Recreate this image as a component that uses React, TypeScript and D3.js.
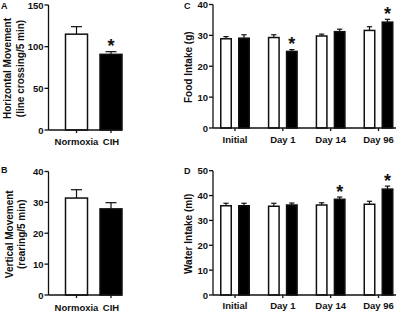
import React from "react";
import * as d3 from "d3";

// ---- data ----
const groups = ["Normoxia", "CIH"];
const horizMean = [115, 90.8];
const horizSem = [9, 3.2];
const horizSig = [false, true];
const vertMean = [31.4, 27.9];
const vertSem = [2.7, 2.0];
const vertSig = [false, false];

const days = ["Initial", "Day 1", "Day 14", "Day 96"];
const foodNormoxia = [28.9, 29.3, 29.8, 31.6];
const foodNormoxiaSem = [0.7, 0.9, 0.6, 1.2];
const foodCIH = [29.1, 24.8, 31.2, 34.3];
const foodCIHSem = [1.1, 0.6, 0.8, 0.9];
const foodSig = [false, true, false, true];

const waterNormoxia = [35.9, 35.7, 36.2, 36.5];
const waterNormoxiaSem = [1.0, 1.2, 0.9, 1.2];
const waterCIH = [35.9, 36.2, 38.5, 42.6];
const waterCIHSem = [1.0, 0.8, 0.9, 1.2];
const waterSig = [false, false, true, true];

const ticksA = [0, 50, 100, 150];
const ticksB = [0, 10, 20, 30, 40];
const ticksC = [0, 10, 20, 30, 40];
const ticksD = [0, 10, 20, 30, 40, 50];

const FONT = "'Liberation Sans', Arial, sans-serif";

type Bar = { cat: string; offset: number; mean: number; sem: number; fill: string; sig: boolean };

type PanelProps = {
  letter: string;
  letterX: number;
  letterY: number;
  labelLines: string[];
  labelXs: number[];
  left: number;
  right: number;
  top: number;
  bottom: number;
  yMax: number;
  ticks: number[];
  cats: string[];
  catRange: [number, number];
  bars: Bar[];
  barWidth: number;
  catBaseline: number;
};

function Panel(p: PanelProps) {
  const y = d3.scaleLinear().domain([0, p.yMax]).range([p.bottom, p.top]);
  const x = d3.scalePoint<string>().domain(p.cats).range(p.catRange);
  const midY = (p.top + p.bottom) / 2 + 1;
  return (
    <g fontFamily={FONT} fontWeight="bold" fill="#111">
      <text x={p.letterX} y={p.letterY} fontSize={9}>{p.letter}</text>
      {p.labelLines.map((l, i) => (
        <text
          key={i}
          transform={`translate(${p.labelXs[i]},${midY}) rotate(-90)`}
          textAnchor="middle"
          dominantBaseline="central"
          fontSize={10}
        >
          {l}
        </text>
      ))}
      {p.bars.map((b, i) => {
        const cx = (x(b.cat) as number) + b.offset;
        const yt = y(b.mean);
        const ye = y(b.mean + b.sem);
        return (
          <g key={i}>
            <line x1={cx} x2={cx} y1={yt} y2={ye} stroke="#111" strokeWidth={1.2} />
            <line x1={cx - p.barWidth / 4} x2={cx + p.barWidth / 4} y1={ye} y2={ye} stroke="#111" strokeWidth={1.2} />
            <rect
              x={cx - p.barWidth / 2}
              y={yt}
              width={p.barWidth}
              height={p.bottom - yt}
              fill={b.fill}
              stroke="#111"
              strokeWidth={1.5}
            />
            {b.sig && (
              <text x={cx} y={ye + 0.5} textAnchor="middle" fontSize={18}>*</text>
            )}
          </g>
        );
      })}
      <line x1={p.left} x2={p.left} y1={p.top} y2={p.bottom} stroke="#111" strokeWidth={1.3} />
      <line x1={p.left} x2={p.right} y1={p.bottom} y2={p.bottom} stroke="#111" strokeWidth={1.3} />
      {p.ticks.map((t) => (
        <g key={t}>
          <line x1={p.left - 4} x2={p.left} y1={y(t)} y2={y(t)} stroke="#111" strokeWidth={1.3} />
          <text x={p.left - 5} y={y(t)} textAnchor="end" dominantBaseline="central" fontSize={9.5}>{t}</text>
        </g>
      ))}
      {p.cats.map((c) => (
        <g key={c}>
          <line x1={x(c)} x2={x(c)} y1={p.bottom} y2={p.bottom + 3} stroke="#111" strokeWidth={1.3} />
          <text x={x(c)} y={p.catBaseline} textAnchor="middle" fontSize={9.5}>{c}</text>
        </g>
      ))}
    </g>
  );
}

function twoBars(means: number[], sems: number[], sig: boolean[]): Bar[] {
  return groups.map((g, i) => ({
    cat: g,
    offset: 0,
    mean: means[i],
    sem: sems[i],
    fill: i === 0 ? "#fff" : "#000",
    sig: sig[i],
  }));
}

function dayBars(nm: number[], ns: number[], cm: number[], cs: number[], sig: boolean[]): Bar[] {
  const out: Bar[] = [];
  days.forEach((d, i) => {
    out.push({ cat: d, offset: -9, mean: nm[i], sem: ns[i], fill: "#fff", sig: false });
    out.push({ cat: d, offset: 9, mean: cm[i], sem: cs[i], fill: "#000", sig: sig[i] });
  });
  return out;
}

export default function App() {
  return (
    <div style={{ position: "absolute", left: 0, top: 0 }}>
      <svg width={400} height={312} style={{ display: "block", background: "#fff" }}>
        <Panel
          letter="A" letterX={1} letterY={9}
          labelLines={["Horizontal Movement", "(line crossing/5 min)"]} labelXs={[7.5, 20]}
          left={48.5} right={122} top={5} bottom={130} yMax={150} ticks={ticksA}
          cats={groups} catRange={[76.5, 111]}
          bars={twoBars(horizMean, horizSem, horizSig)} barWidth={22} catBaseline={145}
        />
        <Panel
          letter="B" letterX={1} letterY={173}
          labelLines={["Vertical Movement", "(rearing/5 min)"]} labelXs={[9, 21.5]}
          left={48.5} right={122} top={171.5} bottom={295} yMax={40} ticks={ticksB}
          cats={groups} catRange={[76.5, 111]}
          bars={twoBars(vertMean, vertSem, vertSig)} barWidth={22} catBaseline={310.5}
        />
        <Panel
          letter="C" letterX={184} letterY={9}
          labelLines={["Food Intake (g)"]} labelXs={[188]}
          left={213} right={396} top={4.5} bottom={128} yMax={40} ticks={ticksC}
          cats={days} catRange={[235, 378.5]}
          bars={dayBars(foodNormoxia, foodNormoxiaSem, foodCIH, foodCIHSem, foodSig)} barWidth={10.5} catBaseline={142.5}
        />
        <Panel
          letter="D" letterX={184} letterY={174}
          labelLines={["Water Intake (ml)"]} labelXs={[188]}
          left={213} right={396} top={170.7} bottom={295} yMax={50} ticks={ticksD}
          cats={days} catRange={[235, 378.5]}
          bars={dayBars(waterNormoxia, waterNormoxiaSem, waterCIH, waterCIHSem, waterSig)} barWidth={10.5} catBaseline={308.5}
        />
      </svg>
    </div>
  );
}
